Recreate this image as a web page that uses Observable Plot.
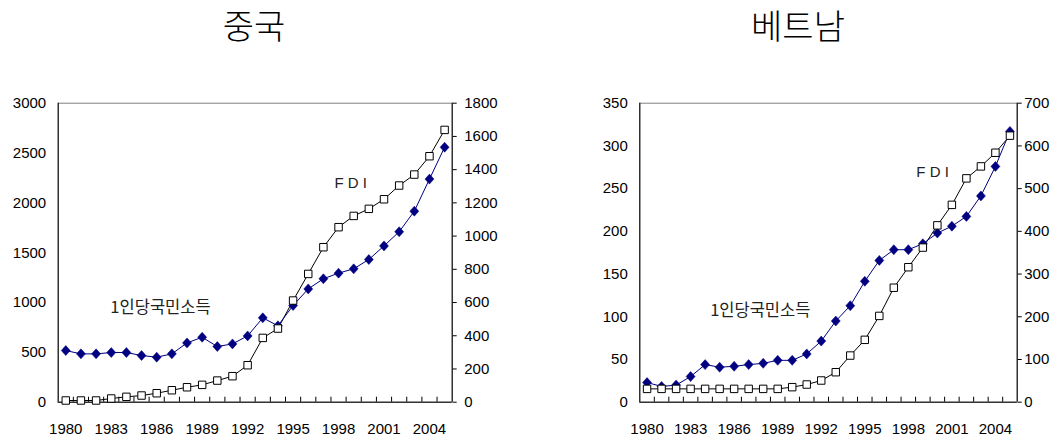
<!DOCTYPE html>
<html>
<head>
<meta charset="utf-8">
<script src="https://cdn.jsdelivr.net/npm/d3@7"></script>
<script src="https://cdn.jsdelivr.net/npm/@observablehq/plot@0.6"></script>
<style>
  html, body { margin: 0; padding: 0; background: #fff; width: 1053px; height: 440px; overflow: hidden; }
  .title { position: absolute; top: 0px; font-family: "Noto Sans CJK KR", sans-serif; font-weight: 300; font-size: 34px; color: #000; text-align: center; width: 200px; }
  .panel { position: absolute; top: 90px; }
</style>
</head>
<body>
<div class="title" style="left:154px">중국</div>
<div class="title" style="left:698px">베트남</div>
<div class="panel" id="china" style="left:0px"></div>
<div class="panel" id="vietnam" style="left:580px"></div>
<script>
const years = [1980,1981,1982,1983,1984,1985,1986,1987,1988,1989,1990,1991,1992,1993,1994,1995,1996,1997,1998,1999,2000,2001,2002,2003,2004,2005];
const yearLabels = [1980,1983,1986,1989,1992,1995,1998,2001,2004];

// China: FDI (left axis), per-capita income (right axis)
const chinaFDI = [17,17,17,37,54,67,90,120,150,174,217,261,371,645,739,1020,1287,1555,1756,1869,1940,2036,2174,2284,2468,2732];
const chinaIncome = [311,291,291,299,299,281,271,291,357,391,335,351,399,508,460,582,682,743,777,803,859,941,1026,1150,1343,1535];
const chinaLeftTicks = [0,500,1000,1500,2000,2500,3000];
const chinaRightTicks = [0,200,400,600,800,1000,1200,1400,1600,1800];

// Vietnam: FDI (left axis), per-capita income (right axis)
const vnFDI = [15.6,15.6,15.6,15.6,15.6,15.6,15.6,15.6,15.6,15.6,17.6,20.7,25.4,35.1,54.6,73,101,134,158,181,207,231,262,276,292,312];
const vnIncome = [46,37,40,60,88,82,84,88,91,98,98,113,143,190,226,283,332,357,357,371,396,412,435,483,552,634];
const vnLeftTicks = [0,50,100,150,200,250,300,350];
const vnRightTicks = [0,100,200,300,400,500,600,700];

const diamond = {
  draw(ctx, size) {
    const h = Math.sqrt(size / Math.PI);
    const w = h * 0.9;
    ctx.moveTo(0, -h); ctx.lineTo(w, 0); ctx.lineTo(0, h); ctx.lineTo(-w, 0); ctx.closePath();
  }
};

function panel(opts) {
  const {fdi, income, leftTicks, rightTicks, width, marginLeft, marginRight, fdiLabel, incLabel, rightPad} = opts;
  const lmax = leftTicks[leftTicks.length - 1];
  const rmax = rightTicks[rightTicks.length - 1];
  const k = lmax / rmax;
  const rows = years.map((y, i) => ({year: y, fdi: fdi[i], inc: income[i] * k}));
  const bounds = years.map(y => y + 0.5).slice(0, -1);
  const plotH = 299;
  return Plot.plot({
    width, height: 350,
    marginLeft, marginRight, marginTop: 12.7, marginBottom: 38.3,
    style: {fontFamily: "'Liberation Sans', Arial, sans-serif", fontSize: "15px", background: "white", color: "#000", overflow: "visible"},
    x: {type: "linear", domain: [1979.5, 2005.5]},
    y: {domain: [0, lmax]},
    marks: [
      Plot.frame({stroke: "#808080", strokeWidth: 1}),
      Plot.ruleX([1979.5, 2005.5], {stroke: "#000"}),
      Plot.ruleY([0], {stroke: "#000"}),
      Plot.ruleX(bounds, {y1: 0, y2: lmax * 5 / plotH, stroke: "#000"}),
      Plot.axisX({ticks: yearLabels, tickSize: 0, tickPadding: 21, tickFormat: d => String(d), label: null}),
      Plot.axisY({anchor: "left", ticks: leftTicks, tickSize: 0, tickPadding: 12, tickFormat: d => String(d), label: null}),
      Plot.axisY({anchor: "right", ticks: rightTicks.map(v => v * k), tickSize: 4, tickPadding: rightPad, tickFormat: d => String(Math.round(d / k)), label: null}),
      Plot.line(rows, {x: "year", y: "fdi", stroke: "#000", strokeWidth: 1}),
      Plot.line(rows, {x: "year", y: "inc", stroke: "#000080", strokeWidth: 1}),
      Plot.dot(rows, {x: "year", y: "inc", symbol: diamond, r: 5, fill: "#000080", stroke: "#000080", strokeWidth: 0.5}),
      Plot.dot(rows, {x: "year", y: "fdi", symbol: "square", r: 4.2, fill: "white", stroke: "#000", strokeWidth: 1}),
      Plot.text(["F D I"], {x: fdiLabel[0], y: fdiLabel[1], text: d => d, fontSize: 15, fill: "#222"}),
      Plot.text(["1인당국민소득"], {x: incLabel[0], y: incLabel[1], text: d => d, fontSize: 16.5, fill: "#222", fontFamily: "'Noto Sans CJK KR', sans-serif"})
    ]
  });
}

document.getElementById("china").append(panel({
  fdi: chinaFDI, income: chinaIncome, leftTicks: chinaLeftTicks, rightTicks: chinaRightTicks,
  width: 510, marginLeft: 57.7, marginRight: 58.3,
  fdiLabel: [1998.8, 2194], incLabel: [1986.25, 950], rightPad: 8
}));
document.getElementById("vietnam").append(panel({
  fdi: vnFDI, income: vnIncome, leftTicks: vnLeftTicks, rightTicks: vnRightTicks,
  width: 473, marginLeft: 59.3, marginRight: 36.3,
  fdiLabel: [1999.67, 269], incLabel: [1987.8, 107], rightPad: 3
}));
</script>
</body>
</html>
